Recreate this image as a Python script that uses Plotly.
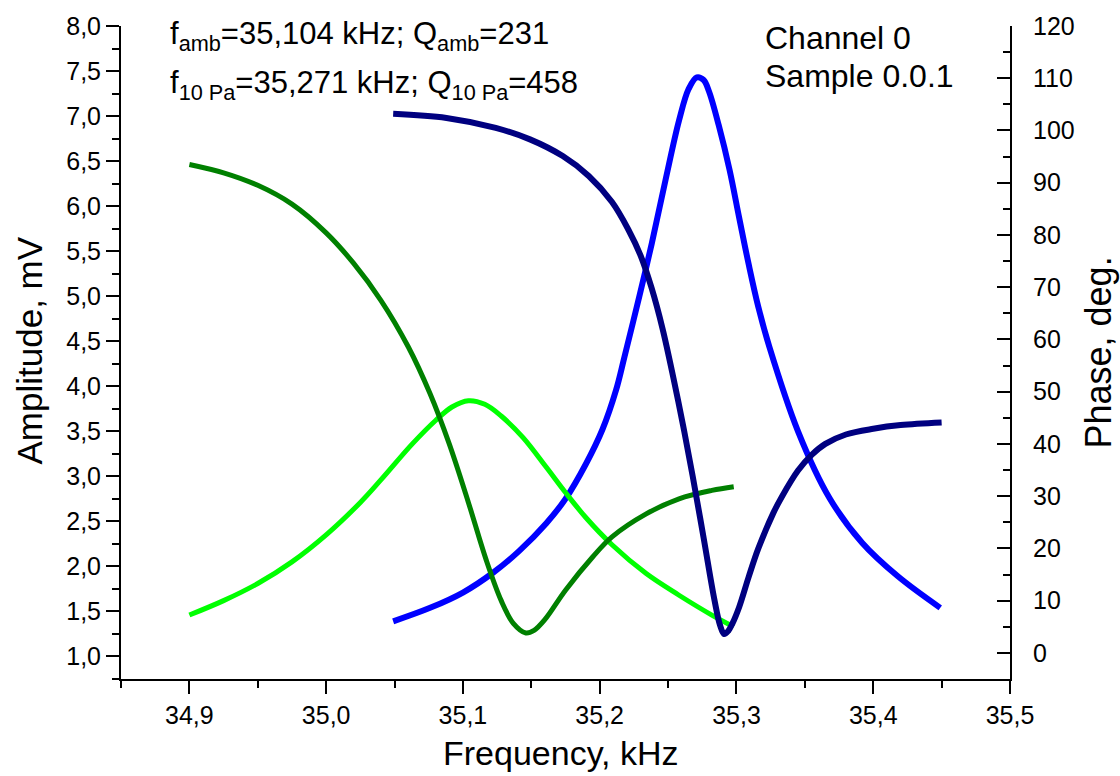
import plotly.graph_objects as go

# Ambient pressure: amplitude (mV) and phase (deg) vs frequency (kHz)
freq_amb_amp = [34.900, 34.925, 34.950, 34.975, 35.000, 35.025, 35.040, 35.063, 35.080,
                35.092, 35.104, 35.116, 35.128, 35.144, 35.161, 35.175, 35.190, 35.209,
                35.234, 35.258, 35.282, 35.298]
amp_amb = [1.46, 1.62, 1.81, 2.05, 2.35, 2.71, 2.96, 3.36, 3.62,
           3.77, 3.84, 3.80, 3.67, 3.43, 3.10, 2.82, 2.54, 2.24,
           1.92, 1.68, 1.46, 1.33]

freq_amb_ph = [34.900, 34.925, 34.950, 34.975, 35.000, 35.020, 35.040, 35.060, 35.076,
               35.090, 35.104, 35.117, 35.128, 35.137, 35.146, 35.152, 35.160, 35.175,
               35.195, 35.209, 35.234, 35.258, 35.282, 35.298]
phase_amb = [93.5, 91.9, 89.5, 85.9, 80.4, 74.6, 67.5, 58.6, 49.6,
             40.0, 28.8, 17.8, 10.0, 5.6, 3.8, 4.3, 6.4, 12.0,
             18.4, 22.2, 26.6, 29.5, 31.1, 31.8]

# 10 Pa: amplitude (mV) and phase (deg) vs frequency (kHz)
freq_10pa_amp = [35.049, 35.076, 35.100, 35.122, 35.141, 35.161, 35.175, 35.190, 35.202,
                 35.212, 35.218, 35.229, 35.238, 35.248, 35.258, 35.265, 35.271, 35.276,
                 35.280, 35.287, 35.295, 35.302, 35.309, 35.316, 35.324, 35.345, 35.368,
                 35.392, 35.418, 35.449]
amp_10pa = [1.39, 1.54, 1.71, 1.93, 2.17, 2.48, 2.75, 3.14, 3.52,
            3.96, 4.32, 5.00, 5.58, 6.28, 6.95, 7.30, 7.43, 7.40,
            7.27, 6.90, 6.40, 5.87, 5.35, 4.88, 4.44, 3.50, 2.76,
            2.26, 1.89, 1.54]

freq_10pa_ph = [35.049, 35.088, 35.124, 35.149, 35.173, 35.192, 35.209, 35.221, 35.230,
                35.238, 35.246, 35.254, 35.261, 35.268, 35.276, 35.284, 35.288, 35.291,
                35.294, 35.297, 35.302, 35.309, 35.316, 35.327, 35.333, 35.345, 35.355,
                35.365, 35.380, 35.400, 35.420, 35.450]
phase_10pa = [103.2, 102.4, 100.5, 98.3, 95.1, 91.3, 86.3, 81.0, 76.0,
              69.8, 62.0, 52.5, 43.5, 33.8, 22.0, 10.0, 5.3, 3.6,
              4.2, 5.6, 8.8, 14.6, 20.0, 26.8, 29.8, 34.9, 37.9,
              40.0, 41.8, 42.9, 43.6, 44.1]

x_ticks = [34.9, 35.0, 35.1, 35.2, 35.3, 35.4, 35.5]

FONT = "Arial, Liberation Sans, sans-serif"
TICK_SIZE = 25
TEXT_SIZE = 32
NOTE_SIZE = 31

fig = go.Figure()

curve_style = dict(mode="lines", hoverinfo="skip")
fig.add_trace(go.Scatter(x=freq_10pa_amp, y=amp_10pa, yaxis="y",
                         line=dict(color="#0000FF", width=6, shape="spline", smoothing=1.0),
                         **curve_style))
fig.add_trace(go.Scatter(x=freq_amb_amp, y=amp_amb, yaxis="y",
                         line=dict(color="#00FF00", width=5, shape="spline", smoothing=1.0),
                         **curve_style))
fig.add_trace(go.Scatter(x=freq_amb_ph, y=phase_amb, yaxis="y2",
                         line=dict(color="#008000", width=5, shape="spline", smoothing=1.0),
                         **curve_style))
fig.add_trace(go.Scatter(x=freq_10pa_ph, y=phase_10pa, yaxis="y2",
                         line=dict(color="#000080", width=6, shape="spline", smoothing=1.0),
                         **curve_style))

axis_common = dict(
    showgrid=False, zeroline=False, showline=True, linecolor="black", linewidth=2,
    tickcolor="black", tickwidth=2, ticklen=13,
    tickfont=dict(family=FONT, size=TICK_SIZE, color="black"),
)

fig.update_layout(
    width=1120, height=776,
    margin=dict(l=121, r=110, t=23, b=97),
    paper_bgcolor="white", plot_bgcolor="white",
    separators=", ",
    showlegend=False,
    font=dict(family=FONT, color="black"),
    xaxis=dict(range=[34.85, 35.5], tickvals=x_ticks, tickformat=".1f", ticks="outside",
               minor=dict(dtick=0.05, tick0=34.9, ticks="outside", ticklen=7,
                          tickwidth=2, tickcolor="black", showgrid=False),
               **axis_common),
    yaxis=dict(range=[0.75, 8.0], tick0=1.0, dtick=0.5, tickformat=".1f", ticks="outside",
               minor=dict(dtick=0.25, tick0=1.0, ticks="outside", ticklen=7,
                          tickwidth=2, tickcolor="black", showgrid=False),
               **axis_common),
    yaxis2=dict(range=[-5, 120], tick0=0, dtick=10, overlaying="y", side="right",
                ticks="inside", ticklabelstandoff=16,
                minor=dict(dtick=5, tick0=0, ticks="inside", ticklen=7,
                           tickwidth=2, tickcolor="black", showgrid=False),
                **axis_common),
)

def px_x(px):
    return (px - 121) / 889

def px_y(py):
    return (679 - py) / 656

annotations = [
    dict(text="f<sub>amb</sub>=35,104 kHz; Q<sub>amb</sub>=231",
         x=px_x(168), y=px_y(33), xanchor="left", yanchor="middle", size=NOTE_SIZE),
    dict(text="f<sub>10 Pa</sub>=35,271 kHz; Q<sub>10 Pa</sub>=458",
         x=px_x(168), y=px_y(82), xanchor="left", yanchor="middle", size=NOTE_SIZE),
    dict(text="Channel 0", x=px_x(763), y=px_y(35), xanchor="left", yanchor="middle",
         size=TEXT_SIZE),
    dict(text="Sample 0.0.1", x=px_x(763), y=px_y(73), xanchor="left", yanchor="middle",
         size=TEXT_SIZE),
    dict(text="Amplitude, mV", x=px_x(30), y=px_y(349), xanchor="center", yanchor="middle",
         textangle=-90, size=35),
    dict(text="Phase, deg.", x=px_x(1098), y=px_y(351), xanchor="center", yanchor="middle",
         textangle=-90, size=36),
    dict(text="Frequency, kHz", x=px_x(561), y=px_y(753), xanchor="center", yanchor="middle",
         size=34),
]
for a in annotations:
    size = a.pop("size")
    fig.add_annotation(xref="paper", yref="paper", showarrow=False,
                       font=dict(family=FONT, size=size, color="black"), **a)

fig.write_html("out.html")
